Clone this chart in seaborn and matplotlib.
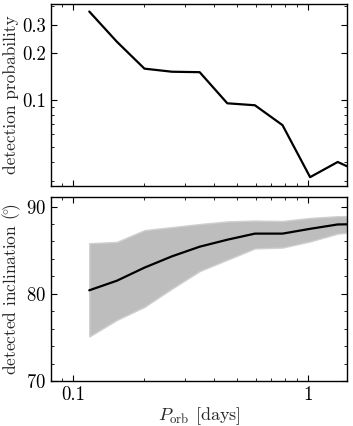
import numpy as np
import pandas as pd
import matplotlib
matplotlib.use("Agg")
import matplotlib.pyplot as plt
import matplotlib.ticker as mticker
import seaborn as sns

# Data
period = [0.1173, 0.1538, 0.2016, 0.2643, 0.3465, 0.4543, 0.5956, 0.7808, 1.0236, 1.342, 1.76]
det_prob = [0.367, 0.235, 0.158, 0.151, 0.150, 0.0948, 0.0921, 0.0687, 0.0319, 0.0399, 0.0331]
incl_med = [80.4, 81.5, 83.0, 84.3, 85.4, 86.2, 86.9, 86.9, 87.45, 87.95, 88.0]
incl_hi = [85.8, 85.95, 87.3, 87.65, 88.0, 88.3, 88.4, 88.35, 88.7, 88.9, 88.9]
incl_lo = [75.1, 77.0, 78.5, 80.6, 82.6, 83.9, 85.2, 85.3, 86.0, 86.9, 87.2]

df = pd.DataFrame({"P": period, "prob": det_prob, "med": incl_med,
                   "hi": incl_hi, "lo": incl_lo})

sns.set_style("ticks")
plt.rcParams.update({
    "font.family": ["cmr10", "DejaVu Serif"],
    "mathtext.fontset": "cm",
    "axes.formatter.use_mathtext": True,
    "axes.unicode_minus": False,
    "font.size": 12.5,
    "axes.labelsize": 12.5,
    "xtick.labelsize": 13.5,
    "ytick.labelsize": 13.5,
    "xtick.direction": "in",
    "ytick.direction": "in",
    "xtick.top": True,
    "ytick.right": True,
    "xtick.major.size": 4,
    "ytick.major.size": 4,
    "xtick.minor.size": 2.2,
    "ytick.minor.size": 2.2,
    "xtick.major.width": 0.8,
    "ytick.major.width": 0.8,
    "axes.linewidth": 1.0,
    "axes.edgecolor": "black",
    "xtick.color": "black",
    "ytick.color": "black",
})

fig = plt.figure(figsize=(3.53, 4.26), dpi=100)
ax1 = fig.add_axes([0.1445, 0.5634, 0.8385, 0.4272])
ax2 = fig.add_axes([0.1445, 0.1056, 0.8385, 0.4320], sharex=ax1)

sns.lineplot(data=df, x="P", y="prob", ax=ax1, color="black", lw=1.6)
ax1.set_xscale("log")
ax1.set_yscale("log")
ax1.set_xlim(0.0806, 1.47)
ax1.set_ylim(0.028, 0.41)
ax1.yaxis.set_major_locator(mticker.FixedLocator([0.1, 0.2, 0.3]))
ax1.yaxis.set_major_formatter(mticker.FixedFormatter(["0.1", "0.2", "0.3"]))
ax1.yaxis.set_minor_locator(mticker.LogLocator(base=10, subs=np.arange(2, 10) * 1.0, numticks=20))
ax1.yaxis.set_minor_formatter(mticker.NullFormatter())
ax1.set_ylabel("detection probability", labelpad=2)
ax1.set_xlabel("")
ax1.tick_params(labelbottom=False)
ax1.tick_params(which="both", top=True, right=True, direction="in")

ax2.fill_between(df["P"], df["lo"], df["hi"], color="#bdbdbd", edgecolor="#d0d0d0", lw=1.0)
sns.lineplot(data=df, x="P", y="med", ax=ax2, color="black", lw=1.6)
ax2.set_ylim(70, 91.1)
ax2.yaxis.set_major_locator(mticker.FixedLocator([70, 80, 90]))
ax2.yaxis.set_minor_locator(mticker.MultipleLocator(2))
ax2.set_xscale("log")
ax2.set_xlim(0.0806, 1.47)
ax2.xaxis.set_major_locator(mticker.FixedLocator([0.1, 1]))
ax2.xaxis.set_major_formatter(mticker.FixedFormatter(["0.1", "1"]))
ax2.xaxis.set_minor_locator(mticker.LogLocator(base=10, subs=np.arange(2, 10) * 1.0, numticks=20))
ax2.xaxis.set_minor_formatter(mticker.NullFormatter())
ax2.set_ylabel(r"detected inclination $(\!^{\circ}\!)$", labelpad=2)
ax2.set_xlabel(r"$P_{\rm orb}$ [days]", labelpad=1, fontsize=13)
ax2.tick_params(which="both", top=True, right=True, direction="in")

fig.savefig("out.png", dpi=100)
